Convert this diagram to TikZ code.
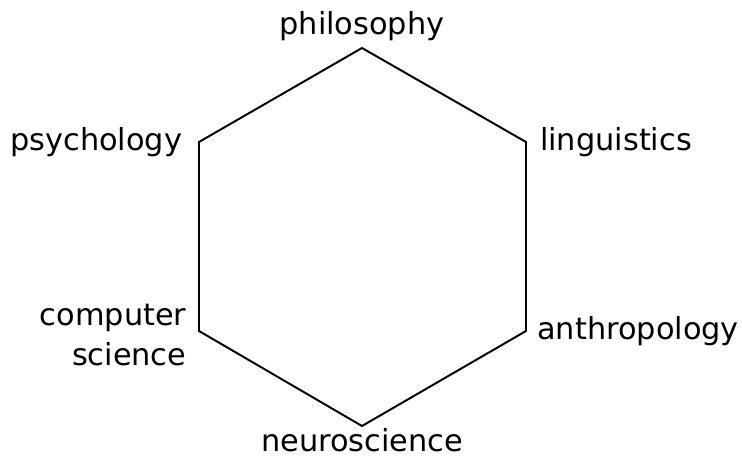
\documentclass[tikz,border=0pt]{standalone}
\usepackage{fontspec}
\setmainfont{DejaVu Sans}
\usepackage{tikz}
\usetikzlibrary{positioning}

\begin{document}
\begin{tikzpicture}[x=0.025cm,y=-0.025cm,
  field/.style={font=\fontsize{21.6}{28.3}\selectfont,inner sep=0pt,outer sep=0pt},
  edge/.style={line width=1.4pt,line join=miter}]
\useasboundingbox (0,0) rectangle (742,457);
% corners of the hexagon
\coordinate (phil) at (362,48);
\coordinate (ling) at (526,142);
\coordinate (anth) at (526,331);
\coordinate (neuro) at (362,426);
\coordinate (comp) at (199,331);
\coordinate (psych) at (199,142);
\draw[edge] (phil) -- (ling) -- (anth) -- (neuro) -- (comp) -- (psych) -- cycle;
% the six fields
\node[field,above=5pt of phil] (philL) {philosophy};
\node[field,right=10pt of ling] (lingL) {linguistics};
\node[field,right=8pt of anth] (anthL) {anthropology};
\node[field,below=1.5pt of neuro] (neuroL) {neuroscience};
\node[field,left=9pt of comp,align=right,yshift=-3pt] (compL) {computer\\science};
\node[field,left=12pt of psych] (psychL) {psychology};
\end{tikzpicture}
\end{document}
